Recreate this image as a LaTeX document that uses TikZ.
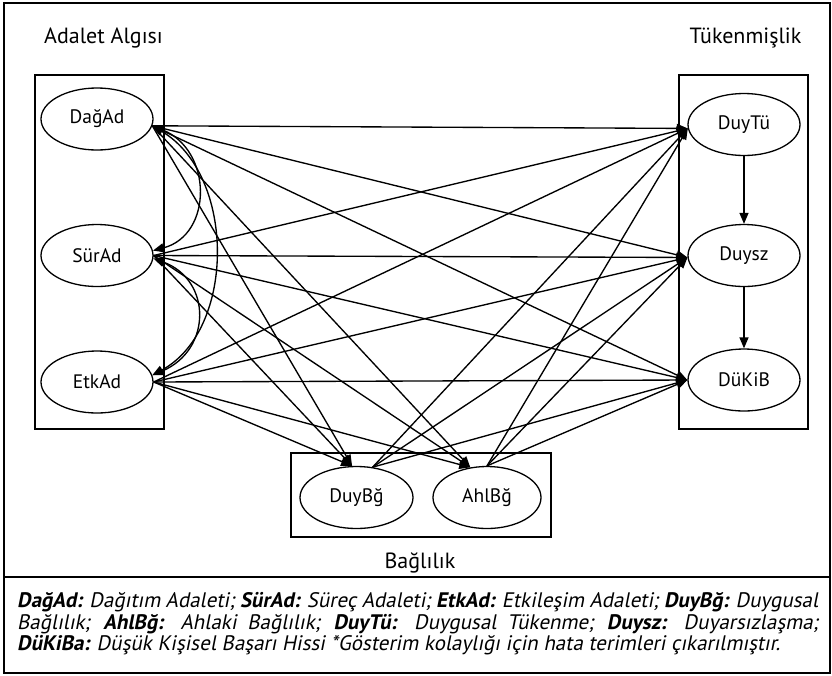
\documentclass[tikz,border=0pt]{standalone}
\usepackage{fontspec}
\setmainfont{PT Sans}
\newfontfamily\legfont[FakeSlant=0.2]{PT Sans}
\usetikzlibrary{arrows.meta,shapes.geometric}
\begin{document}
\begin{tikzpicture}[x=1pt,y=-1pt,
  var/.style={draw,ellipse,line width=1.3pt,minimum width=112pt,minimum height=62pt,inner sep=0pt,font=\fontsize{19.5}{19.5}\selectfont},
  grp/.style={draw,line width=1.4pt},
  pth/.style={line width=1.35pt,-{Triangle[length=11pt,width=9pt]}},
  cov/.style={line width=1.35pt,{Triangle[length=11pt,width=9pt]}-{Triangle[length=11pt,width=9pt]}},
  ttl/.style={font=\fontsize{22}{22}\selectfont,inner sep=0pt,anchor=base},
]
\useasboundingbox (0,0) rectangle (832,675);
\draw[line width=1.4pt] (4,3) rectangle (830,673);
\draw[line width=1.4pt] (4,577) -- (830,577);
% group boxes
\draw[grp] (35,75) rectangle (164,429);
\draw[grp] (679,75) rectangle (808,429);
\draw[grp] (291,453) rectangle (551,537);
% titles
\node[ttl] (tA) at (103.5,43) {Adalet Algısı};
\node[ttl] (tT) at (745.5,43) {Tükenmişlik};
\node[ttl] (tB) at (420,568) {Bağlılık};
% variables
\node[var] (dag) at (97,119) {DağAd};
\node[var] (sur) at (97,255.5) {SürAd};
\node[var] (etk) at (97,382) {EtkAd};
\node[var] (tu)  at (744,124.5) {DuyTü};
\node[var] (dsz) at (744,255.5) {Duysz};
\node[var] (dkb) at (744,380) {DüKiB};
\node[var,minimum width=113pt] (db) at (356.5,497.5) {DuyBğ};
\node[var,minimum width=108pt] (ah) at (487,497.5) {AhlBğ};
% paths
\foreach \s/\a in {dag/-7,sur/0,etk/0}{
  \draw[pth] (\s.\a) -- (tu.184);
  \draw[pth] (\s.\a) -- (dsz.182);
  \draw[pth] (\s.\a) -- (dkb.180);
  \draw[pth] (\s.\a) -- (db.98);
  \draw[pth] (\s.\a) -- (ah.119);
}
\foreach \s/\a in {db/62,ah/90}{
  \draw[pth] (\s.\a) -- (tu.184);
  \draw[pth] (\s.\a) -- (dsz.182);
  \draw[pth] (\s.\a) -- (dkb.180);
}
\draw[pth] (tu.south) -- (dsz.north);
\draw[pth] (dsz.south) -- (dkb.north);
% covariances
\draw[cov] (dag.-7) .. controls (213,150) and (213,235) .. (sur.5);
\draw[cov] (dag.-7) .. controls (236,175) and (236,330) .. (etk.7);
\draw[cov] (sur.-3) .. controls (212,280) and (212,350) .. (etk.7);
% legend
\node[anchor=north west,inner sep=0pt,text width=801pt,align=justify,
  font=\legfont\fontsize{21}{21.5}\selectfont] (leg) at (17,592.5)
{{\bfseries DağAd:} Dağıtım Adaleti; {\bfseries SürAd:} Süreç Adaleti; {\bfseries EtkAd:} Etkileşim Adaleti; {\bfseries DuyBğ:} Duygusal\linebreak
Bağlılık; {\bfseries AhlBğ:} Ahlaki Bağlılık; {\bfseries DuyTü:} Duygusal Tükenme; {\bfseries Duysz:} Duyarsızlaşma;\linebreak
{\bfseries DüKiBa:} Düşük Kişisel Başarı Hissi *Gösterim kolaylığı için hata terimleri çıkarılmıştır.};
\end{tikzpicture}
\end{document}
